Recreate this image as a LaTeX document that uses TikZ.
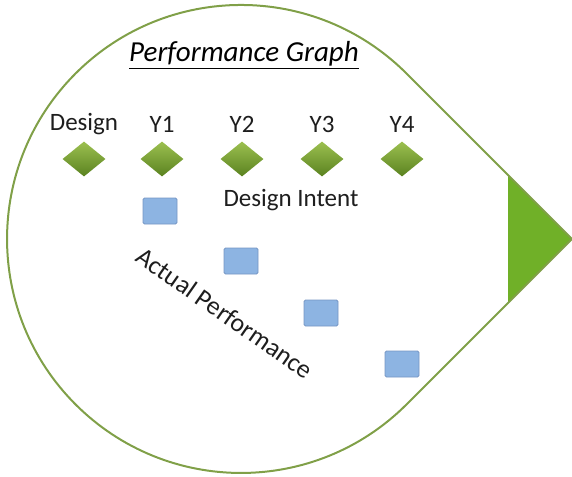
\documentclass[tikz,border=0pt]{standalone}
\usepackage{fontspec}
\setmainfont{Carlito}
\usetikzlibrary{shapes.geometric}
\definecolor{outl}{RGB}{128,160,72}
\definecolor{trig}{RGB}{112,176,40}
\definecolor{dtop}{RGB}{156,192,80}
\definecolor{dbot}{RGB}{90,130,32}
\definecolor{sqf}{RGB}{141,180,226}
\definecolor{sqd}{RGB}{118,150,196}
\definecolor{txt}{RGB}{30,30,30}
\begin{document}
\begin{tikzpicture}[x=1pt,y=1pt,
  gem/.style={diamond,inner sep=0pt,minimum width=43pt,minimum height=35pt,aspect=1.24,top color=dtop,bottom color=dbot,draw=none},
  sq/.style={rectangle,inner sep=0pt,minimum width=34pt,minimum height=26pt,fill=sqf,draw=sqd,line width=0.8pt,rounded corners=1.5pt},
  lab/.style={font=\fontsize{25}{30}\selectfont,text=txt,inner sep=0pt}]
\useasboundingbox (0,0) rectangle (572,-476);
\coordinate (c) at (241,-239);
\coordinate (tip) at (572,-239);
\coordinate (tt) at (406.5,-73.5);
\coordinate (tb) at (406.5,-404.5);
\fill[trig] (508,-175) -- (tip) -- (508,-303) -- cycle;
\draw[outl,line width=2pt,line join=miter] (tip) -- (tt) arc[start angle=45,end angle=315,radius=234] -- cycle;
\node[font=\fontsize{29}{35}\selectfont\itshape,inner sep=0pt,text=black] (title) at (244,-55) {\underline{Performance Graph}};
\foreach \n/\t/\x in {d/Design/84,a/Y1/162,b/Y2/242,e/Y3/322,f/Y4/402}{
  \node[lab] (l\n) at (\x,-124) {\t};
  \node[gem] (g\n) at (\x,-159) {};
}
\node[lab] (intent) at (291,-200) {Design Intent};
\node[sq] (s1) at (160,-211) {};
\node[sq] (s2) at (241,-261) {};
\node[sq] (s3) at (321,-313) {};
\node[sq] (s4) at (402,-364) {};
\node[lab,rotate=-35,font=\fontsize{26}{31}\selectfont] (actual) at (225,-313) {Actual Performance};
\end{tikzpicture}
\end{document}
